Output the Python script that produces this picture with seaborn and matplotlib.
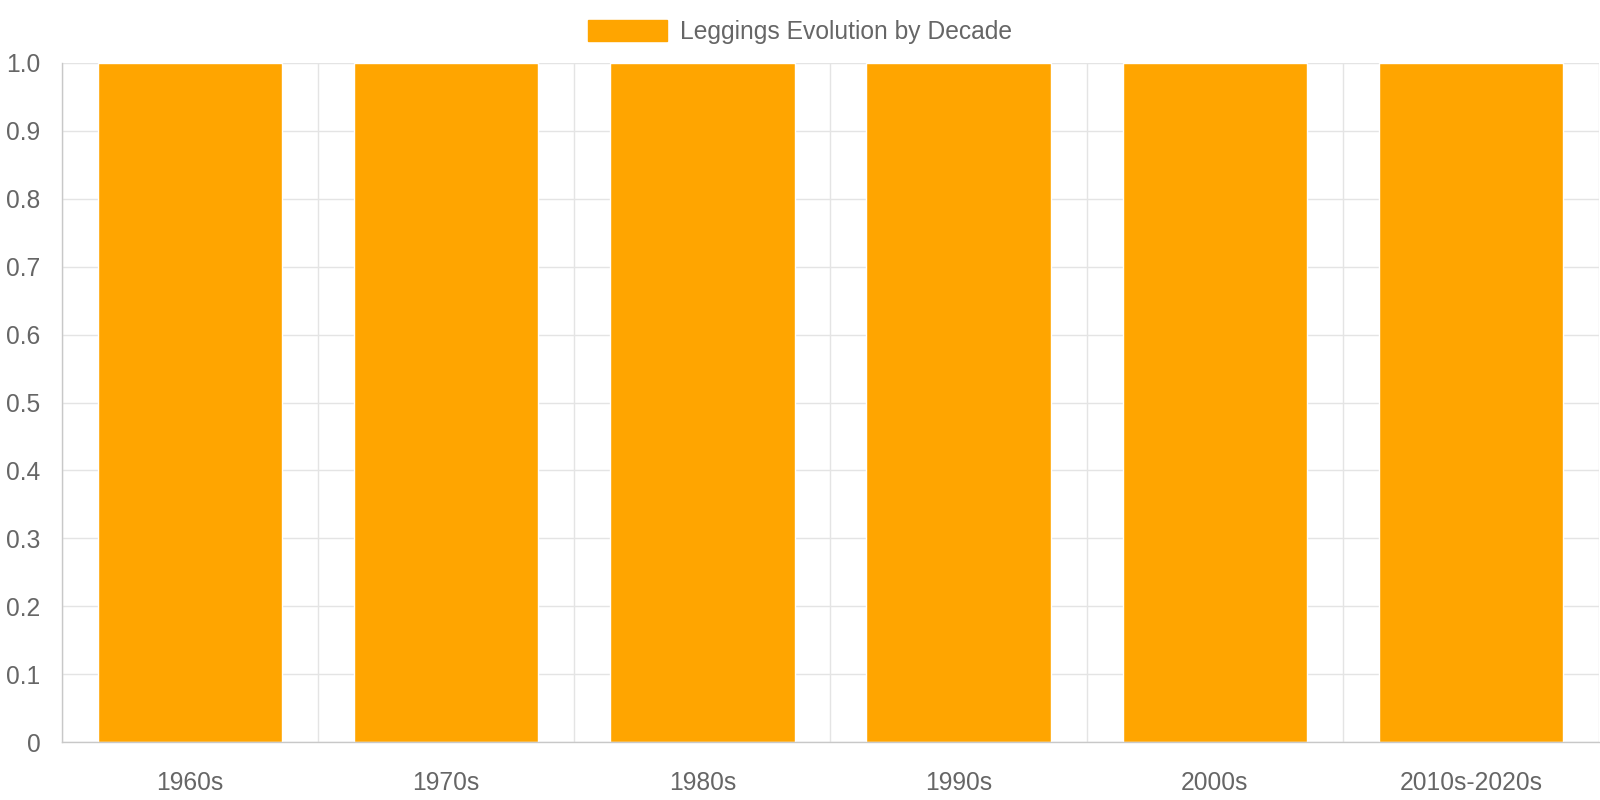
import numpy as np
import pandas as pd
import seaborn as sns
import matplotlib.pyplot as plt
from matplotlib.patches import Patch
from matplotlib.ticker import FixedLocator, FuncFormatter

# data
decades = ["1960s", "1970s", "1980s", "1990s", "2000s", "2010s-2020s"]
values = [1, 1, 1, 1, 1, 1]
series_name = "Leggings Evolution by Decade"

bar_color = "#FFA500"
text_color = "#666666"
grid_color = "#e4e4e4"
fs = 17.7

sns.set_theme(style="white")
plt.rcParams["font.family"] = ["Liberation Sans", "DejaVu Sans"]

df = pd.DataFrame({"decade": decades, "value": values})

fig = plt.figure(figsize=(16, 8), dpi=100)
# plot area in pixels: x 62..1599, y 63..742
ax = fig.add_axes([62 / 1600, 1 - 742 / 800, (1599 - 62) / 1600, (742 - 63) / 800])

sns.barplot(data=df, x="decade", y="value", color=bar_color, width=0.72,
            saturation=1, ax=ax, zorder=2)

ax.set_xlim(-0.5, len(decades) - 0.5)
ax.set_ylim(0, 1.0)
ax.set_xlabel("")
ax.set_ylabel("")

# y ticks
yt = np.round(np.arange(0, 1.01, 0.1), 1)
ax.set_yticks(yt)
ax.yaxis.set_major_formatter(FuncFormatter(lambda v, p: "0" if v == 0 else f"{v:.1f}"))
ax.tick_params(axis="y", length=11, color=grid_color, labelsize=fs,
               labelcolor=text_color, pad=4.5)

# x ticks: labels at centers, gridlines at category boundaries
ax.tick_params(axis="x", which="major", length=0, labelsize=fs,
               labelcolor=text_color, pad=21)
ax.xaxis.set_minor_locator(FixedLocator(np.arange(-0.5, len(decades), 1.0)))
ax.tick_params(axis="x", which="minor", length=11.5, color=grid_color, width=1)

ax.grid(axis="y", which="major", color=grid_color, linewidth=1, zorder=0)
ax.grid(axis="x", which="minor", color=grid_color, linewidth=1, zorder=0)
ax.set_axisbelow(True)

for s in ["top", "right"]:
    ax.spines[s].set_visible(False)
for s in ["left", "bottom"]:
    ax.spines[s].set_color("#c8c8c8")
    ax.spines[s].set_linewidth(1)

handle = Patch(facecolor=bar_color, edgecolor=bar_color)
fig.legend([handle], [series_name], loc="center", bbox_to_anchor=(0.5, 1 - 32 / 800),
           frameon=False, fontsize=fs, labelcolor=text_color,
           handlelength=3.25, handleheight=0.94, handletextpad=0.53)

fig.savefig("out.png", dpi=100)
